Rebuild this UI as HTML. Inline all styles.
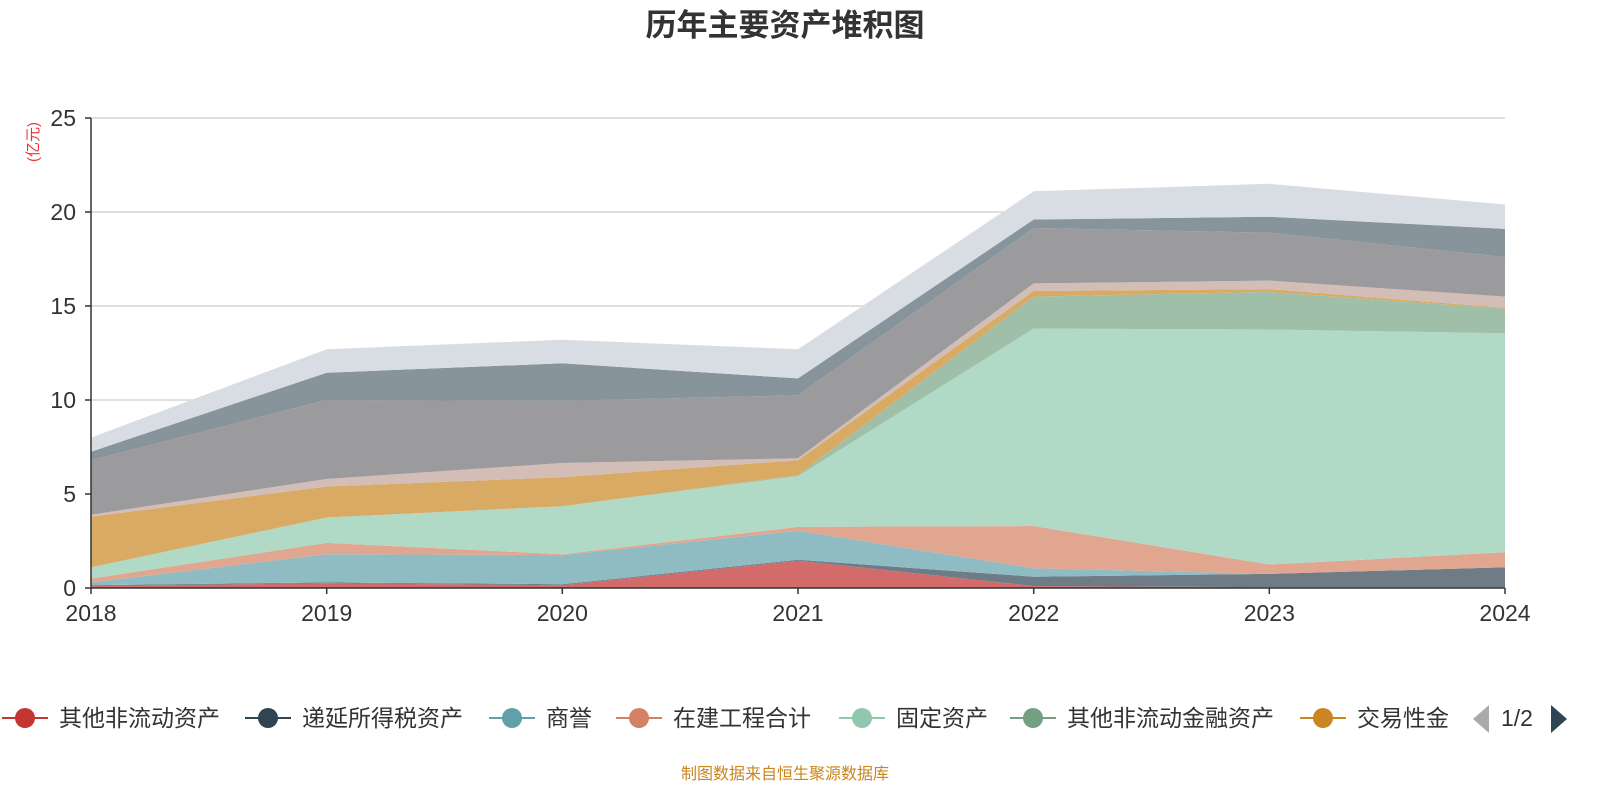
<!DOCTYPE html>
<html><head><meta charset="utf-8">
<style>
body{margin:0;background:#fff;width:1600px;height:800px;overflow:hidden;font-family:"Liberation Sans","Noto Sans CJK SC",sans-serif;}
svg text{font-family:"Liberation Sans","Noto Sans CJK SC",sans-serif;}
</style></head><body>
<svg id="s" width="1600" height="800" xmlns="http://www.w3.org/2000/svg">
<text x="785" y="36" text-anchor="middle" font-size="31" font-weight="bold" fill="#333">历年主要资产堆积图</text>
<g stroke="#ccc" stroke-width="1.3">
<line x1="91" x2="1505" y1="118" y2="118"/><line x1="91" x2="1505" y1="212" y2="212"/>
<line x1="91" x2="1505" y1="306" y2="306"/><line x1="91" x2="1505" y1="400" y2="400"/>
<line x1="91" x2="1505" y1="494" y2="494"/>
</g>
<g id="areas"></g>
<line x1="91" x2="91" y1="118" y2="588" stroke="#333" stroke-width="1.5"/>
<line x1="91" x2="1505" y1="588" y2="588" stroke="#333" stroke-width="1.5"/>
<g stroke="#333" stroke-width="1.5">
<line x1="85" x2="91" y1="118" y2="118"/><line x1="85" x2="91" y1="212" y2="212"/><line x1="85" x2="91" y1="306" y2="306"/><line x1="85" x2="91" y1="400" y2="400"/><line x1="85" x2="91" y1="494" y2="494"/><line x1="85" x2="91" y1="588" y2="588"/>
<line x1="91" x2="91" y1="588" y2="594"/><line x1="326.7" x2="326.7" y1="588" y2="594"/><line x1="562.3" x2="562.3" y1="588" y2="594"/><line x1="798" x2="798" y1="588" y2="594"/><line x1="1033.7" x2="1033.7" y1="588" y2="594"/><line x1="1269.3" x2="1269.3" y1="588" y2="594"/><line x1="1505" x2="1505" y1="588" y2="594"/>
</g>
<g font-size="23" fill="#333" text-anchor="end">
<text x="76" y="126">25</text><text x="76" y="220">20</text><text x="76" y="314">15</text><text x="76" y="408">10</text><text x="76" y="502">5</text><text x="76" y="596">0</text>
</g>
<g font-size="23" fill="#333" text-anchor="middle">
<text x="91" y="621">2018</text><text x="326.7" y="621">2019</text><text x="562.3" y="621">2020</text><text x="798" y="621">2021</text><text x="1033.7" y="621">2022</text><text x="1269.3" y="621">2023</text><text x="1505" y="621">2024</text>
</g>
<text transform="translate(38,142) rotate(-90)" text-anchor="middle" font-size="15" fill="#e33">(亿元)</text>
<g font-size="23" fill="#333">
<line x1="2" x2="48" y1="718" y2="718" stroke="#c23531" stroke-width="2"/><circle cx="25" cy="718" r="10" fill="#c23531"/><text x="59" y="726">其他非流动资产</text>
<line x1="245" x2="291" y1="718" y2="718" stroke="#2f4554" stroke-width="2"/><circle cx="268" cy="718" r="10" fill="#2f4554"/><text x="302" y="726">递延所得税资产</text>
<line x1="489" x2="535" y1="718" y2="718" stroke="#61a0a8" stroke-width="2"/><circle cx="512" cy="718" r="10" fill="#61a0a8"/><text x="546" y="726">商誉</text>
<line x1="616" x2="662" y1="718" y2="718" stroke="#d48265" stroke-width="2"/><circle cx="639" cy="718" r="10" fill="#d48265"/><text x="673" y="726">在建工程合计</text>
<line x1="839" x2="885" y1="718" y2="718" stroke="#91c7ae" stroke-width="2"/><circle cx="862" cy="718" r="10" fill="#91c7ae"/><text x="896" y="726">固定资产</text>
<line x1="1010" x2="1056" y1="718" y2="718" stroke="#749f83" stroke-width="2"/><circle cx="1033" cy="718" r="10" fill="#749f83"/><text x="1067" y="726">其他非流动金融资产</text>
<line x1="1300" x2="1346" y1="718" y2="718" stroke="#ca8622" stroke-width="2"/><circle cx="1323" cy="718" r="10" fill="#ca8622"/><text x="1357" y="726">交易性金</text>
<polygon points="1489,705 1489,733 1473,719" fill="#aaa"/>
<text x="1501" y="726">1/2</text>
<polygon points="1551,705 1551,733 1567,719" fill="#2f4554"/>
</g>
<text x="785" y="779" text-anchor="middle" font-size="16" fill="#c8861c">制图数据来自恒生聚源数据库</text>
</svg>
<script>
var X=[91,326.7,562.3,798,1033.7,1269.3,1505];
function y(v){return 588-18.8*v;}
var tops=[
[0.1,0.25,0.15,1.45,0.1,0.05,0.05],
[0.15,0.3,0.2,1.5,0.6,0.75,1.1],
[0.3,1.8,1.75,3.05,1.05,0.75,1.1],
[0.5,2.4,1.8,3.25,3.3,1.25,1.9],
[1.1,3.75,4.35,5.95,13.8,13.75,13.55],
[1.1,3.75,4.35,6.0,15.5,15.75,14.85],
[3.8,5.4,5.9,6.8,15.8,15.9,14.9],
[3.9,5.8,6.65,6.9,16.2,16.35,15.5],
[6.8,10.0,9.95,10.25,19.15,18.9,17.6],
[7.25,11.45,11.95,11.15,19.6,19.75,19.1],
[8.0,12.7,13.2,12.7,21.1,21.5,20.4]];
var cols=["#d46b6b","#6d7c87","#8fbcc3","#e0a690","#b0d9c6","#9fbfa9","#d8aa63","#d3bdb7","#9b9b9e","#87949b","#d8dde3"];
var g=document.getElementById('areas'),prev=[0,0,0,0,0,0,0],h='';
for(var k=0;k<tops.length;k++){var p=[];
for(var i=0;i<7;i++)p.push(X[i]+','+y(tops[k][i]).toFixed(1));
for(var i=6;i>=0;i--)p.push(X[i]+','+y(prev[i]).toFixed(1));
h+='<polygon points="'+p.join(' ')+'" fill="'+cols[k]+'"/>';prev=tops[k];}
g.innerHTML=h;
</script>
</body></html>
